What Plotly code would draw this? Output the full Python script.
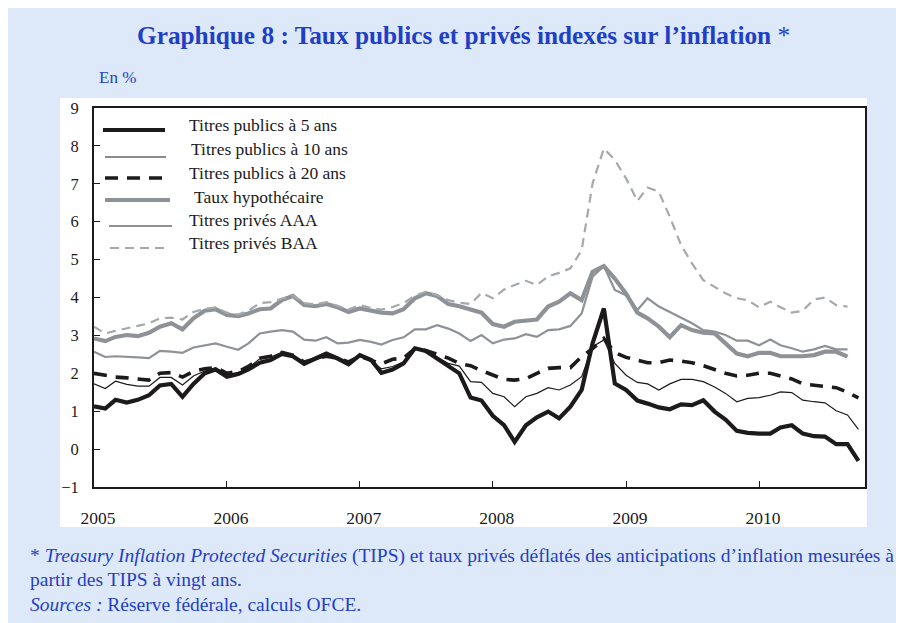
import plotly.graph_objects as go
import pandas as pd

dates = pd.date_range("2005-01-01", periods=70, freq="MS")

titres_5 = [1.13, 1.07, 1.30, 1.23, 1.30, 1.42, 1.68, 1.72, 1.38, 1.72, 2.00, 2.10,
            1.91, 1.98, 2.10, 2.28, 2.35, 2.51, 2.45, 2.25, 2.39, 2.52, 2.39, 2.24,
            2.48, 2.35, 2.01, 2.10, 2.26, 2.66, 2.59, 2.39, 2.19, 2.00, 1.36, 1.28,
            0.88, 0.63, 0.19, 0.63, 0.84, 0.99, 0.81, 1.12, 1.56, 2.79, 3.71, 1.73,
            1.56, 1.28, 1.20, 1.10, 1.05, 1.18, 1.16, 1.29, 0.99, 0.78, 0.48, 0.43,
            0.41, 0.41, 0.57, 0.63, 0.41, 0.34, 0.33, 0.13, 0.13, -0.31]

titres_10 = [1.72, 1.60, 1.79, 1.71, 1.66, 1.66, 1.89, 1.89, 1.69, 1.93, 2.06, 2.15,
             1.97, 2.02, 2.14, 2.38, 2.43, 2.55, 2.47, 2.28, 2.35, 2.45, 2.38, 2.28,
             2.45, 2.32, 2.12, 2.18, 2.30, 2.64, 2.60, 2.42, 2.26, 2.19, 1.78, 1.76,
             1.47, 1.38, 1.12, 1.38, 1.47, 1.62, 1.56, 1.69, 1.91, 2.70, 2.88, 2.26,
             1.95, 1.76, 1.72, 1.56, 1.72, 1.84, 1.84, 1.78, 1.64, 1.47, 1.25, 1.34,
             1.36, 1.42, 1.51, 1.49, 1.29, 1.25, 1.22, 1.01, 0.90, 0.52]

titres_20 = [2.00, 1.95, 1.90, 1.88, 1.85, 1.82, 2.00, 2.02, 1.90, 2.05, 2.12, 2.15,
             2.00, 2.05, 2.18, 2.40, 2.45, 2.55, 2.48, 2.30, 2.38, 2.45, 2.40, 2.30,
             2.45, 2.35, 2.25, 2.37, 2.40, 2.65, 2.60, 2.50, 2.40, 2.26, 2.20, 2.07,
             1.95, 1.84, 1.82, 1.86, 2.00, 2.13, 2.15, 2.15, 2.44, 2.65, 2.92, 2.55,
             2.42, 2.35, 2.28, 2.28, 2.35, 2.32, 2.28, 2.20, 2.10, 2.00, 1.93, 1.95,
             2.00, 2.00, 1.93, 1.85, 1.72, 1.68, 1.66, 1.62, 1.50, 1.35]

taux_hypo = [2.92, 2.85, 2.96, 3.01, 2.98, 3.07, 3.23, 3.32, 3.16, 3.45, 3.65, 3.69,
             3.54, 3.51, 3.58, 3.69, 3.71, 3.93, 4.04, 3.80, 3.77, 3.83, 3.74, 3.62,
             3.71, 3.65, 3.60, 3.58, 3.69, 3.98, 4.11, 4.04, 3.83, 3.77, 3.67, 3.60,
             3.30, 3.23, 3.36, 3.39, 3.42, 3.76, 3.89, 4.11, 3.93, 4.68, 4.83, 4.50,
             4.10, 3.60, 3.45, 3.23, 2.95, 3.27, 3.14, 3.07, 3.05, 2.79, 2.52, 2.45,
             2.54, 2.54, 2.45, 2.45, 2.45, 2.48, 2.57, 2.57, 2.44, None]

prives_aaa = [2.57, 2.43, 2.45, 2.44, 2.42, 2.40, 2.59, 2.57, 2.54, 2.68, 2.74, 2.79,
              2.70, 2.62, 2.79, 3.05, 3.10, 3.14, 3.10, 2.89, 2.86, 2.95, 2.79, 2.81,
              2.88, 2.83, 2.76, 2.88, 2.95, 3.16, 3.16, 3.27, 3.18, 3.05, 2.85, 3.01,
              2.79, 2.89, 2.92, 3.03, 2.96, 3.14, 3.16, 3.25, 3.58, 4.55, 4.83, 4.20,
              4.06, 3.67, 3.98, 3.76, 3.62, 3.47, 3.32, 3.14, 3.10, 3.01, 2.86, 2.86,
              2.74, 2.89, 2.74, 2.66, 2.57, 2.63, 2.72, 2.63, 2.63, None]

prives_baa = [3.23, 3.05, 3.12, 3.18, 3.25, 3.32, 3.45, 3.47, 3.42, 3.62, 3.70, 3.74,
              3.60, 3.55, 3.65, 3.85, 3.88, 3.97, 4.05, 3.85, 3.82, 3.88, 3.78, 3.68,
              3.80, 3.72, 3.68, 3.75, 3.85, 4.05, 4.15, 4.06, 3.93, 3.86, 3.83, 4.12,
              3.98, 4.21, 4.33, 4.44, 4.33, 4.56, 4.65, 4.77, 5.25, 7.01, 7.93, 7.63,
              7.14, 6.55, 6.90, 6.79, 6.13, 5.38, 4.90, 4.46, 4.28, 4.11, 3.98, 3.93,
              3.74, 3.89, 3.74, 3.60, 3.65, 3.95, 4.00, 3.80, 3.76, None]

year_ticks = ["2005-01-01", "2006-01-01", "2007-01-01", "2008-01-01", "2009-01-01", "2010-01-01"]
year_labels = ["2005", "2006", "2007", "2008", "2009", "2010"]
y_ticks = list(range(-1, 10))

BLACK = "#1c1a1b"
GRAY = "#8e9297"
LGRAY = "#a4a9ae"
BLUE_TXT = "#1f40c6"
BLUE_BG = "#dde9f8"
SERIF = "Liberation Serif, Times New Roman, serif"

W, H = 904, 623
L, T = 86, 100          # plot origin in figure px (page has 8px body margin)
PW, PH = 771, 379


def px(page_x):
    return (page_x - 94) / PW


def py(page_y):
    return (487 - page_y) / PH


series = [
    ("Titres publics à 5 ans", titres_5, dict(color=BLACK, width=4.2)),
    ("Titres publics à 10 ans", titres_10, dict(color=BLACK, width=1.2)),
    ("Titres publics à 20 ans", titres_20, dict(color=BLACK, width=3.6, dash="13px,9px")),
    ("Taux hypothécaire", taux_hypo, dict(color=GRAY, width=4.2)),
    ("Titres privés AAA", prives_aaa, dict(color=GRAY, width=2.2)),
    ("Titres privés BAA", prives_baa, dict(color=LGRAY, width=2.2, dash="9px,6px")),
]

fig = go.Figure()
for name, vals, line in series:
    fig.add_trace(go.Scatter(x=dates, y=vals, mode="lines", name=name, line=line,
                             connectgaps=False, showlegend=False))

# white chart panel on the blue page
fig.add_shape(type="rect", xref="paper", yref="paper", x0=px(60), x1=px(867), y0=py(527), y1=py(98),
              fillcolor="white", line_width=0, layer="below")

# legend (drawn inside the plot, top-left)
leg_rows = [  # text y, line y, line x0, line x1, text x
    (125, 130, 103, 165, 187),
    (149, 157, 105, 166, 189),
    (173, 178, 105, 166, 187),
    (197, 200, 105, 170, 192),
    (220, 226, 109, 172, 187),
    (243, 248, 110, 166, 187),
]
for (name, _, line), (ty, ly, lx0, lx1, tx) in zip(series, leg_rows):
    sl = dict(color=line["color"], width=line["width"])
    if "dash" in line:
        sl["dash"] = line["dash"]
    fig.add_shape(type="line", xref="paper", yref="paper", x0=px(lx0), x1=px(lx1),
                  y0=py(ly), y1=py(ly), line=sl)
    fig.add_annotation(text=name, xref="paper", yref="paper", x=px(tx), y=py(ty),
                       xanchor="left", yanchor="middle", showarrow=False,
                       font=dict(family=SERIF, size=17.5, color=BLACK))

fig.add_annotation(text="<b>Graphique 8 : Taux publics et privés indexés sur l’inflation</b> *",
                   xref="paper", yref="paper", x=px(463), y=py(35), xanchor="center", yanchor="middle",
                   showarrow=False, font=dict(family=SERIF, size=25.3, color=BLUE_TXT))
fig.add_annotation(text="En %", xref="paper", yref="paper", x=px(97), y=py(77),
                   xanchor="left", yanchor="middle", showarrow=False,
                   font=dict(family=SERIF, size=17, color=BLUE_TXT))
foot = [
    ("* <i>Treasury Inflation Protected Securities</i> (TIPS) et taux privés déflatés des anticipations d’inflation mesurées à", 556),
    ("partir des TIPS à vingt ans.", 579),
    ("<i>Sources :</i> Réserve fédérale, calculs OFCE.", 604),
]
for txt, yy in foot:
    fig.add_annotation(text=txt, xref="paper", yref="paper", x=px(28), y=py(yy),
                       xanchor="left", yanchor="middle", showarrow=False,
                       font=dict(family=SERIF, size=19.5, color=BLUE_TXT))

fig.update_layout(
    width=W, height=H,
    margin=dict(l=L, r=W - L - PW, t=T, b=H - T - PH, autoexpand=False),
    paper_bgcolor=BLUE_BG, plot_bgcolor="white",
    font=dict(family=SERIF, size=16, color=BLACK),
    showlegend=False,
)
fig.update_xaxes(range=["2005-01-01", "2010-10-19"], tickvals=year_ticks, ticktext=year_labels,
                 ticks="inside", ticklen=6, tickwidth=1.2, tickcolor=BLACK,
                 showline=True, linecolor=BLACK, linewidth=2, mirror=True,
                 showgrid=False, zeroline=False, ticklabelstandoff=14, ticklabelshift=4,
                 tickfont=dict(family=SERIF, size=17.5, color=BLACK))
fig.update_yaxes(range=[-1, 9], tickvals=y_ticks, ticks="inside", ticklen=6, tickwidth=1.2,
                 tickcolor=BLACK, showline=True, linecolor=BLACK, linewidth=2, mirror=True,
                 showgrid=False, zeroline=False, ticklabelstandoff=10,
                 tickfont=dict(family=SERIF, size=16.5, color=BLACK))

fig.write_html("out.html")
